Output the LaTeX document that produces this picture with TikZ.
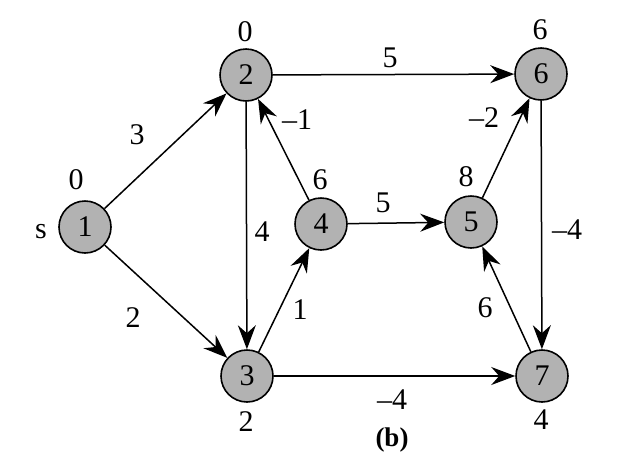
\documentclass[tikz,border=0pt]{standalone}
\usepackage{fontspec}
\setmainfont{Liberation Serif}
\usetikzlibrary{arrows.meta}
\tikzset{
  vtx/.style={circle,draw=black,line width=1.6pt,fill=black!30,minimum size=52pt,inner sep=0pt},
  lbl/.style={inner sep=0pt},
  edge/.style={line width=1.5pt,-{Stealth[length=24pt,width=18pt,inset=8pt]}}
}
\newcommand{\capfont}{\bfseries\fontsize{27}{31}\selectfont}
\begin{document}
\fontsize{30}{34}\selectfont
\begin{tikzpicture}[x=1pt,y=-1pt]
\useasboundingbox (0,0) rectangle (644,472);
\node[vtx] (n1) at (85,227) {1};
\node[vtx] (n2) at (246,75) {2};
\node[vtx] (n3) at (247,376) {3};
\node[vtx] (n4) at (321,224) {4};
\node[vtx] (n5) at (471,222) {5};
\node[vtx] (n6) at (541,74) {6};
\node[vtx] (n7) at (542,376) {7};

\draw[edge] (n1) -- (n2);
\draw[edge] (n1) -- (n3);
\draw[edge] (n2) -- (n3);
\draw[edge] (n2) -- (n6);
\draw[edge] (n4) -- (n2);
\draw[edge] (n3) -- (n4);
\draw[edge] (n4) -- (n5);
\draw[edge] (n5) -- (n6);
\draw[edge] (n6) -- (n7);
\draw[edge] (n7) -- (n5);
\draw[edge] (n3) -- (n7);

\node[lbl] (d1) at (76,180) {0};
\node[lbl] (s) at (41,232) {s};
\node[lbl] (d2) at (245,32) {0};
\node[lbl] (d4) at (320,180) {6};
\node[lbl] (d6) at (540,30) {6};
\node[lbl] (d5) at (466,177) {8};
\node[lbl] (d3) at (246,422) {2};
\node[lbl] (d7) at (541,420) {4};

\node[lbl] (w12) at (137,135) {3};
\node[lbl] (w13) at (133,318) {2};
\node[lbl] (w23) at (262,232) {4};
\node[lbl] (w42) at (297,120) {–1};
\node[lbl] (w26) at (390,58) {5};
\node[lbl] (w45) at (383,203) {5};
\node[lbl] (w56) at (484,118) {–2};
\node[lbl] (w67) at (567,230) {–4};
\node[lbl] (w34) at (300,310) {1};
\node[lbl] (w75) at (485,308) {6};
\node[lbl] (w37) at (392,400) {–4};
\node[lbl] (cap) at (392,440) {\capfont (b)};
\end{tikzpicture}
\end{document}
